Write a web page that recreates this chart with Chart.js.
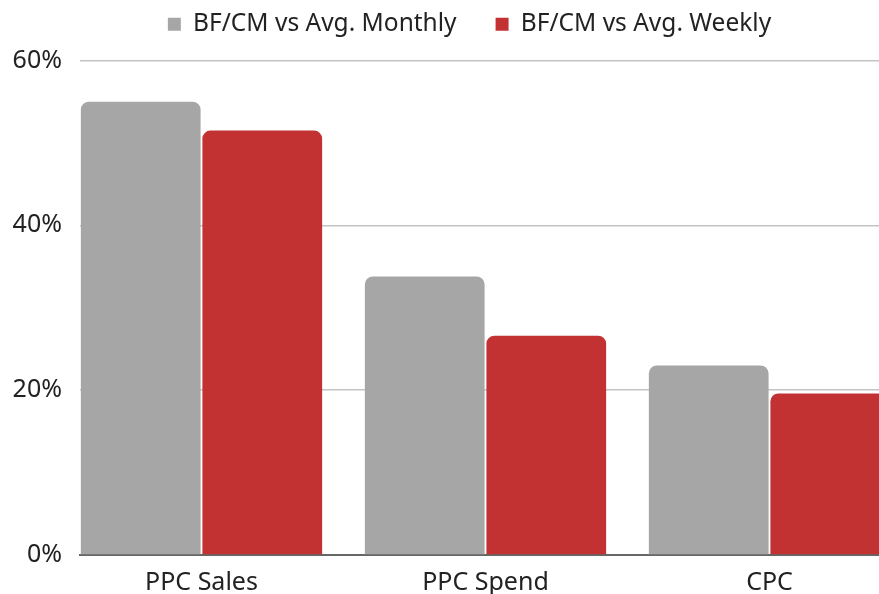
<!DOCTYPE html>
<html>
<head>
<meta charset="utf-8">
<script src="https://cdn.jsdelivr.net/npm/chart.js@4/dist/chart.umd.min.js"></script>
<style>
  html, body { margin: 0; padding: 0; background: #ffffff; overflow: hidden; }
  #wrap { position: relative; width: 879px; height: 594px; }
</style>
</head>
<body>
<div id="wrap"><canvas id="c"></canvas></div>
<script>
const categories = ["PPC Sales", "PPC Spend", "CPC"];
const seriesNames = ["BF/CM vs Avg. Monthly", "BF/CM vs Avg. Weekly"];
const monthly = [55.0, 33.8, 23.0];
const weekly = [51.5, 26.6, 19.6];
const yTicks = [0, 20, 40, 60];

const FONT = "'Noto Sans', sans-serif";

const toPoints = arr => arr.map((v, i) => ({ x: i, y: v }));

const legendSpace = {
  id: 'legendSpace',
  beforeUpdate(chart) {
    const lg = chart.legend;
    if (lg && !lg._patched) {
      const orig = lg.fit;
      lg.fit = function () { orig.call(this); this.height += 14; };
      lg._patched = true;
    }
  },
  afterLayout(chart) {
    const lg = chart.legend;
    if (lg) { lg.left += 30; lg.right += 30; }
  }
};

new Chart(document.getElementById('c'), {
  type: 'bar',
  plugins: [legendSpace],
  data: {
    datasets: [
      {
        label: seriesNames[0],
        data: toPoints(monthly),
        backgroundColor: '#a6a6a6',
        borderRadius: { topLeft: 8, topRight: 8, bottomLeft: 0, bottomRight: 0 },
        borderSkipped: 'start',
        barPercentage: 0.985,
        categoryPercentage: 0.856
      },
      {
        label: seriesNames[1],
        data: toPoints(weekly),
        backgroundColor: '#c33232',
        borderRadius: { topLeft: 8, topRight: 8, bottomLeft: 0, bottomRight: 0 },
        borderSkipped: 'start',
        barPercentage: 0.985,
        categoryPercentage: 0.856
      }
    ]
  },
  options: {
    responsive: true,
    maintainAspectRatio: false,
    animation: false,
    layout: { padding: { top: -27, right: 0, bottom: 0, left: 0 } },
    plugins: {
      tooltip: { enabled: false },
      legend: {
        position: 'top',
        align: 'center',
        labels: {
          boxWidth: 13,
          boxHeight: 13,
          padding: 39,
          color: '#222222',
          font: { family: FONT, size: 24.5 }
        }
      }
    },
    scales: {
      x: {
        type: 'linear',
        offset: false,
        bounds: 'ticks',
        min: -0.4278,
        max: 2.3856,
        grid: { display: false, drawTicks: false, offset: false },
        border: { display: true, color: '#666666', width: 2 },
        ticks: {
          stepSize: 1,
          includeBounds: false,
          autoSkip: false,
          maxRotation: 0,
          padding: 13,
          color: '#222222',
          font: { family: FONT, size: 25 },
          callback: v => (Number.isInteger(v) && categories[v] !== undefined) ? categories[v] : ''
        },
        afterFit: s => { s.height = 39; }
      },
      y: {
        min: yTicks[0],
        max: yTicks[yTicks.length - 1],
        grid: { color: '#c4c4c4', lineWidth: 1.5, drawTicks: false },
        border: { display: false },
        ticks: {
          stepSize: 20,
          padding: 18,
          color: '#222222',
          font: { family: FONT, size: 25 },
          callback: v => v + '%'
        },
        afterFit: s => { s.width = 80; }
      }
    }
  }
});
</script>
</body>
</html>
